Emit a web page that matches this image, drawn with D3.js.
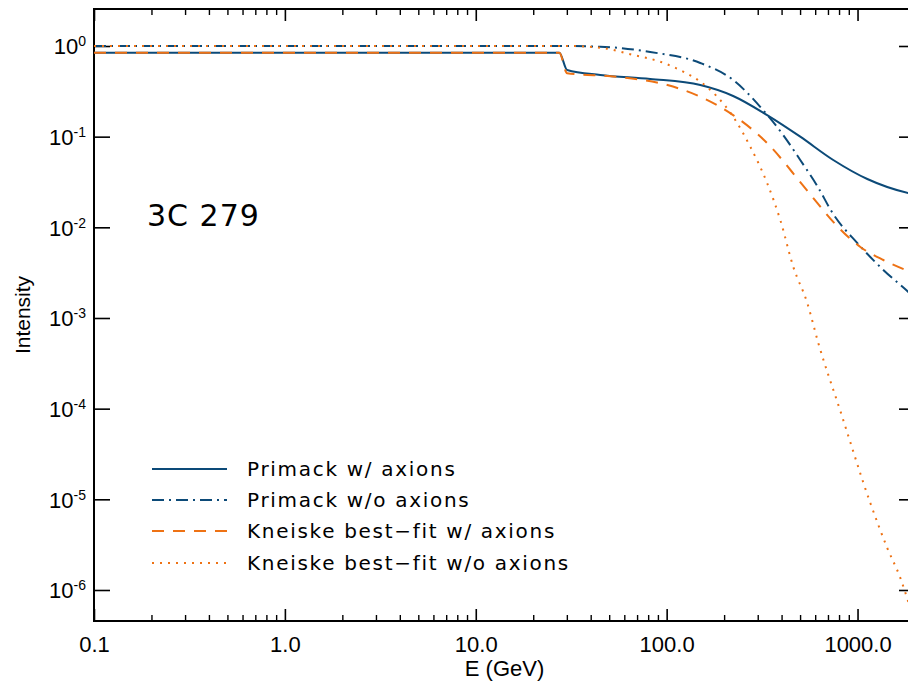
<!DOCTYPE html>
<html>
<head>
<meta charset="utf-8">
<script src="https://cdn.jsdelivr.net/npm/d3@7"></script>
<style>
  body { margin: 0; background: #fff; }
  svg { display: block; }
</style>
</head>
<body>
<div id="container"></div>
<script>
/* CONSTANTS AND GLOBALS */
const width = 908,
  height = 683,
  margin = { top: 9, bottom: 62, left: 94, right: -7 }

const BLUE = "#0c4a78"
const ORANGE = "#ee7214"

/* DATA */
const xMajorTicks = [0.1, 1, 10, 100, 1000]
const yMajorTicks = [1e0, 1e-1, 1e-2, 1e-3, 1e-4, 1e-5, 1e-6]
const seriesNames = [
  "Primack w/ axions",
  "Primack w/o axions",
  "Kneiske best\u2212fit w/ axions",
  "Kneiske best\u2212fit w/o axions"
]
const sourceLabel = "3C 279"

// Primack w/ axions
const primackAxE = [0.1, 27.4, 30.1, 44.9, 82, 150, 223, 336, 501, 746, 1125, 1845, 2000]
const primackAxI = [0.843, 0.843, 0.543, 0.479, 0.433, 0.371, 0.281, 0.173, 0.1, 0.0553, 0.0341, 0.0239, 0.0231]

// Primack w/o axions
const primackE = [0.1, 27.4, 44.9, 82, 150, 223, 310, 408, 501, 615, 746, 998, 1365, 1845, 2000]
const primackI = [1.0, 1.0, 0.982, 0.859, 0.65, 0.422, 0.212, 0.104, 0.0553, 0.0286, 0.0140, 0.0067, 0.00339, 0.00194, 0.00166]

// Kneiske best-fit w/ axions
const kneiskeAxE = [0.1, 27.4, 30.1, 55, 101, 150, 223, 336, 501, 615, 746, 1035, 1365, 1845, 2000]
const kneiskeAxI = [0.843, 0.843, 0.50, 0.458, 0.371, 0.276, 0.173, 0.085, 0.0316, 0.0186, 0.0115, 0.00607, 0.00436, 0.0033, 0.0031]

// Kneiske best-fit w/o axions
const kneiskeE = [0.1, 30.1, 44.9, 66.8, 92.5, 122, 150, 184, 223, 274, 336, 394, 461, 545, 623, 813, 1167, 1432, 1675, 1845]
const kneiskeI = [1.0, 1.0, 0.958, 0.796, 0.671, 0.521, 0.404, 0.276, 0.166, 0.0776, 0.0308, 0.012, 0.00365, 0.00147, 5.3e-4, 9.4e-5, 9.1e-6, 2.9e-6, 1.36e-6, 7.4e-7]

const series = [
  { name: seriesNames[0], E: primackAxE, I: primackAxI, color: BLUE, dash: null },
  { name: seriesNames[1], E: primackE, I: primackI, color: BLUE, dash: "12,5,2,5" },
  { name: seriesNames[2], E: kneiskeAxE, I: kneiskeAxI, color: ORANGE, dash: "12,9" },
  { name: seriesNames[3], E: kneiskeE, I: kneiskeI, color: ORANGE, dash: "2,6" }
]

/* SCALES */
const xScale = d3.scaleLog()
  .domain([0.1, 2000])
  .range([margin.left, width - margin.right])

const yScale = d3.scaleLog()
  .domain([Math.pow(10, -6.342), Math.pow(10, 0.408)])
  .range([height - margin.bottom, margin.top])

const svg = d3.select("#container")
  .append("svg")
  .attr("width", width)
  .attr("height", height)

svg.append("clipPath").attr("id", "plot-clip")
  .append("rect")
  .attr("x", margin.left)
  .attr("y", margin.top)
  .attr("width", width - margin.right - margin.left)
  .attr("height", height - margin.bottom - margin.top)

// minor x ticks, 2..9 per decade
const xMinorTicks = []
xMajorTicks.forEach(d => {
  for (let k = 2; k <= 9; k++) {
    if (d * k <= 2000) xMinorTicks.push(d * k)
  }
})

const bottomY = height - margin.bottom
const axisFont = "'Liberation Sans', Arial, sans-serif"

// bottom axis (major with labels)
svg.append("g")
  .attr("class", "x-axis")
  .attr("transform", `translate(0, ${bottomY})`)
  .call(d3.axisBottom(xScale).tickValues(xMajorTicks).tickSize(-12).tickPadding(15).tickFormat(d3.format(".1f")))
  .call(g => g.select(".domain").remove())
  .call(g => g.selectAll(".tick line").attr("stroke", "#000").attr("stroke-width", 1.6))
  .call(g => g.selectAll(".tick text").attr("fill", "#000").style("font-family", axisFont).style("font-size", "22px"))

svg.append("g")
  .attr("transform", `translate(0, ${bottomY})`)
  .call(d3.axisBottom(xScale).tickValues(xMinorTicks).tickSize(-6).tickFormat(""))
  .call(g => g.select(".domain").remove())
  .call(g => g.selectAll(".tick line").attr("stroke", "#000").attr("stroke-width", 1.4))

// top axis
svg.append("g")
  .attr("transform", `translate(0, ${margin.top})`)
  .call(d3.axisTop(xScale).tickValues(xMajorTicks).tickSize(-12).tickFormat(""))
  .call(g => g.select(".domain").remove())
  .call(g => g.selectAll(".tick line").attr("stroke", "#000").attr("stroke-width", 1.6))

svg.append("g")
  .attr("transform", `translate(0, ${margin.top})`)
  .call(d3.axisTop(xScale).tickValues(xMinorTicks).tickSize(-6).tickFormat(""))
  .call(g => g.select(".domain").remove())
  .call(g => g.selectAll(".tick line").attr("stroke", "#000").attr("stroke-width", 1.4))

// left axis with 10^n labels
svg.append("g")
  .attr("class", "y-axis")
  .attr("transform", `translate(${margin.left}, 0)`)
  .call(d3.axisLeft(yScale).tickValues(yMajorTicks).tickSize(-16).tickPadding(8).tickFormat(""))
  .call(g => g.select(".domain").remove())
  .call(g => g.selectAll(".tick line").attr("stroke", "#000").attr("stroke-width", 1.6))
  .call(g => g.selectAll(".tick text")
    .attr("fill", "#000")
    .attr("dy", "0.35em")
    .style("font-family", axisFont)
    .style("font-size", "22px")
    .each(function(d) {
      const t = d3.select(this)
      t.append("tspan").text("10")
      t.append("tspan").attr("dy", "-0.55em").style("font-size", "14px").text(Math.round(Math.log10(d)))
    }))

// right axis
svg.append("g")
  .attr("transform", `translate(${width - margin.right}, 0)`)
  .call(d3.axisRight(yScale).tickValues(yMajorTicks).tickSize(-16).tickFormat(""))
  .call(g => g.select(".domain").remove())
  .call(g => g.selectAll(".tick line").attr("stroke", "#000").attr("stroke-width", 1.6))

// frame
svg.append("rect")
  .attr("x", margin.left)
  .attr("y", margin.top)
  .attr("width", width - margin.right - margin.left)
  .attr("height", height - margin.bottom - margin.top)
  .attr("fill", "none")
  .attr("stroke", "#000")
  .attr("stroke-width", 2)

// axis titles
svg.append("text")
  .attr("x", (margin.left + width - margin.right) / 2)
  .attr("y", 676)
  .attr("text-anchor", "middle")
  .style("font-family", axisFont)
  .style("font-size", "22px")
  .text("E (GeV)")

svg.append("text")
  .attr("transform", `translate(30, ${(margin.top + bottomY) / 2}) rotate(-90)`)
  .attr("text-anchor", "middle")
  .style("font-family", axisFont)
  .style("font-size", "21px")
  .text("Intensity")

/* LINES */
const line = d3.line()
  .x(d => xScale(d[0]))
  .y(d => yScale(d[1]))
  .curve(d3.curveMonotoneX)

const plot = svg.append("g").attr("clip-path", "url(#plot-clip)")

series.forEach(s => {
  const pts = s.E.map((e, i) => [e, s.I[i]])
  plot.append("path")
    .datum(pts)
    .attr("fill", "none")
    .attr("stroke", s.color)
    .attr("stroke-width", 2)
    .attr("stroke-dasharray", s.dash)
    .attr("d", line)
})

/* SOURCE LABEL */
svg.append("text")
  .attr("x", 147)
  .attr("y", 226)
  .style("font-family", "'DejaVu Sans', sans-serif")
  .style("font-size", "30px")
  .style("letter-spacing", "1px")
  .text(sourceLabel)

/* LEGEND */
const legendRows = [469, 500, 531, 563]
const legend = svg.append("g")
series.forEach((s, i) => {
  legend.append("line")
    .attr("x1", 152).attr("x2", 227)
    .attr("y1", legendRows[i]).attr("y2", legendRows[i])
    .attr("stroke", s.color)
    .attr("stroke-width", 2)
    .attr("stroke-dasharray", s.dash)
  legend.append("text")
    .attr("x", 247)
    .attr("y", legendRows[i] + 7)
    .style("font-family", "'DejaVu Sans', sans-serif")
    .style("font-size", "20px")
    .style("letter-spacing", "1.7px")
    .text(s.name)
})
</script>
</body>
</html>
